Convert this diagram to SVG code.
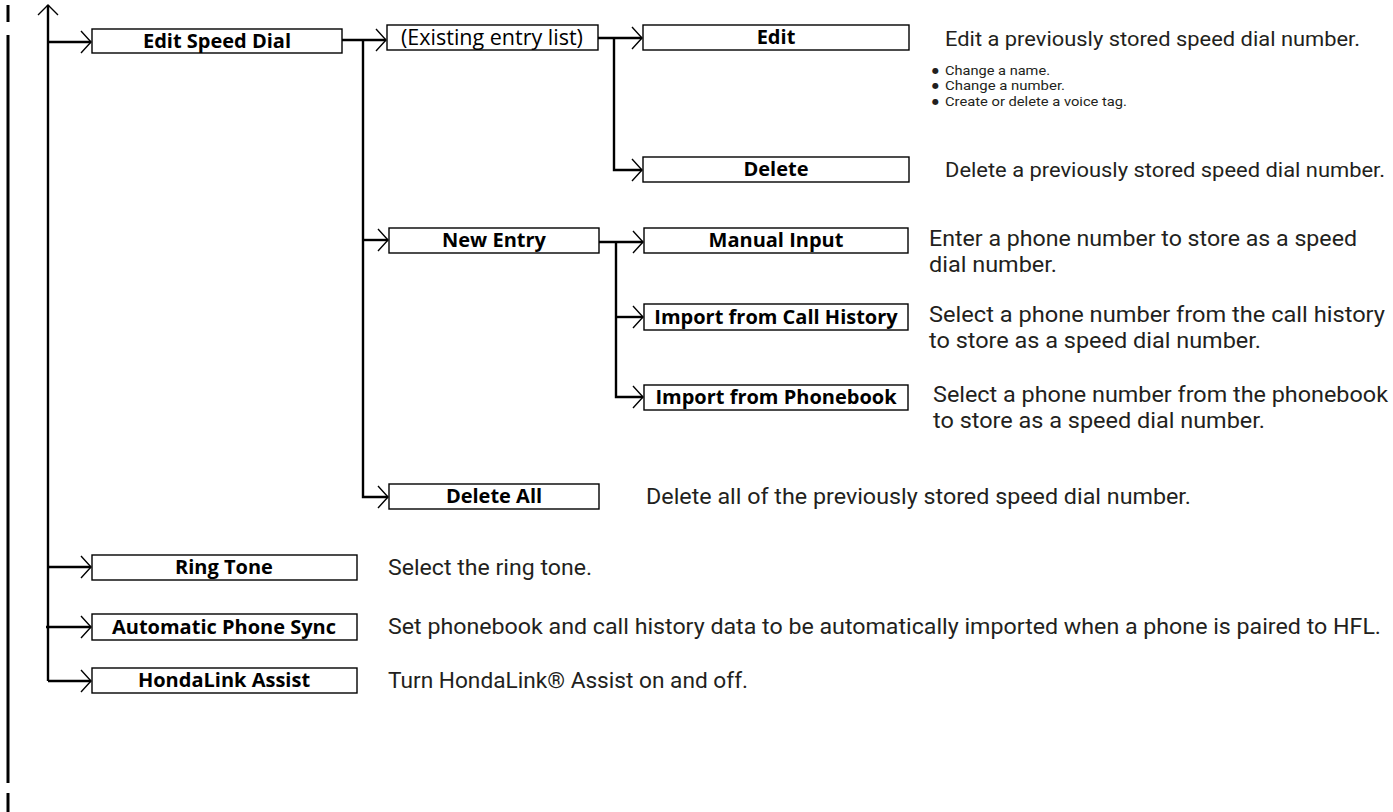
<svg xmlns="http://www.w3.org/2000/svg" width="1393" height="812" viewBox="0 0 1393 812">
<style>
.box{fill:#fff;stroke:#000;stroke-width:1.4}
.lbl{font-family:"Open Sans","Liberation Sans",sans-serif;font-weight:bold;font-size:20px;fill:#000;text-anchor:middle}
.lblr{font-family:"Open Sans","Liberation Sans",sans-serif;font-size:21.5px;fill:#000;text-anchor:middle}
.desc{font-family:Roboto,"Liberation Sans",sans-serif;font-size:22px;fill:#231f20}
.desc2{font-family:Roboto,"Liberation Sans",sans-serif;font-size:20.5px;fill:#231f20}
.bul{font-family:Roboto,"Liberation Sans",sans-serif;font-size:13px;fill:#231f20}
.dot{font-family:"DejaVu Sans",sans-serif;font-size:8px}
.ln{fill:none;stroke:#000;stroke-width:2.4}
.hd{fill:none;stroke:#000;stroke-width:1.4}
.bar{stroke:#000;stroke-width:3}
</style>
<g id="margin-bars">
<line class="bar" x1="8" y1="5" x2="8" y2="22"/>
<line class="bar" x1="8" y1="35" x2="8" y2="783"/>
<line class="bar" x1="8" y1="793" x2="8" y2="812"/>
</g>
<g id="connectors">
<polyline class="ln" points="48,681 48,5"/>
<polyline class="hd" points="38,15 48,5 58,15"/>
<line class="ln" x1="47" y1="42" x2="91" y2="42"/>
<polyline class="hd" points="81,31 91,42 81,53"/>
<line class="ln" x1="47" y1="567" x2="91" y2="567"/>
<polyline class="hd" points="81,556 91,567 81,578"/>
<line class="ln" x1="46" y1="627" x2="91" y2="627"/>
<polyline class="hd" points="81,616 91,627 81,638"/>
<polyline class="ln" points="48,681 91,681"/>
<polyline class="hd" points="81,670 91,681 81,692"/>
<line class="ln" x1="342" y1="40" x2="386" y2="40"/>
<polyline class="hd" points="376,29 386,40 376,51"/>
<polyline class="ln" points="363,40 363,497 388,497"/>
<polyline class="hd" points="378,486 388,497 378,508"/>
<line class="ln" x1="363" y1="240" x2="388" y2="240"/>
<polyline class="hd" points="378,229 388,240 378,251"/>
<line class="ln" x1="598" y1="38" x2="642" y2="38"/>
<polyline class="hd" points="632,27 642,38 632,49"/>
<polyline class="ln" points="614,38 614,170 642,170"/>
<polyline class="hd" points="632,159 642,170 632,181"/>
<line class="ln" x1="599" y1="242" x2="643" y2="242"/>
<polyline class="hd" points="633,231 643,242 633,253"/>
<polyline class="ln" points="616,242 616,397 643,397"/>
<polyline class="hd" points="633,386 643,397 633,408"/>
<line class="ln" x1="616" y1="317" x2="643" y2="317"/>
<polyline class="hd" points="633,306 643,317 633,328"/>
</g>
<g id="edit-speed-dial">
<rect class="box" x="92" y="29" width="250" height="24"/>
<text class="lbl" x="217" y="48">Edit Speed Dial</text>
</g>
<g id="existing-entry-list">
<rect class="box" x="387" y="25" width="211" height="25"/>
<text class="lblr" x="492" y="45">(Existing entry list)</text>
</g>
<g id="edit">
<rect class="box" x="643" y="25" width="266" height="25"/>
<text class="lbl" x="776" y="44">Edit</text>
<text class="desc2" x="945" y="46" textLength="415" lengthAdjust="spacingAndGlyphs">Edit a previously stored speed dial number.</text>
<text class="bul"><tspan class="dot" x="932" y="73">●</tspan><tspan x="945" y="75" textLength="105" lengthAdjust="spacingAndGlyphs">Change a name.</tspan></text>
<text class="bul"><tspan class="dot" x="932" y="88">●</tspan><tspan x="945" y="90" textLength="120" lengthAdjust="spacingAndGlyphs">Change a number.</tspan></text>
<text class="bul"><tspan class="dot" x="932" y="103.5">●</tspan><tspan x="945" y="105.5" textLength="182" lengthAdjust="spacingAndGlyphs">Create or delete a voice tag.</tspan></text>
</g>
<g id="delete">
<rect class="box" x="643" y="157" width="266" height="25"/>
<text class="lbl" x="776" y="176">Delete</text>
<text class="desc2" x="945" y="177" textLength="440" lengthAdjust="spacingAndGlyphs">Delete a previously stored speed dial number.</text>
</g>
<g id="new-entry">
<rect class="box" x="389" y="228" width="210" height="25"/>
<text class="lbl" x="494" y="247">New Entry</text>
</g>
<g id="manual-input">
<rect class="box" x="644" y="228" width="264" height="25"/>
<text class="lbl" x="776" y="247">Manual Input</text>
<text class="desc" x="929" y="246" textLength="428" lengthAdjust="spacingAndGlyphs">Enter a phone number to store as a speed</text>
<text class="desc" x="929" y="272" textLength="128" lengthAdjust="spacingAndGlyphs">dial number.</text>
</g>
<g id="import-call-history">
<rect class="box" x="644" y="304" width="264" height="26"/>
<text class="lbl" x="776" y="324">Import from Call History</text>
<text class="desc" x="929" y="322" textLength="456" lengthAdjust="spacingAndGlyphs">Select a phone number from the call history</text>
<text class="desc" x="929" y="348" textLength="332" lengthAdjust="spacingAndGlyphs">to store as a speed dial number.</text>
</g>
<g id="import-phonebook">
<rect class="box" x="644" y="385" width="264" height="25"/>
<text class="lbl" x="776" y="404">Import from Phonebook</text>
<text class="desc" x="933" y="402" textLength="455" lengthAdjust="spacingAndGlyphs">Select a phone number from the phonebook</text>
<text class="desc" x="933" y="428" textLength="332" lengthAdjust="spacingAndGlyphs">to store as a speed dial number.</text>
</g>
<g id="delete-all">
<rect class="box" x="389" y="484" width="210" height="25"/>
<text class="lbl" x="494" y="503">Delete All</text>
<text class="desc" x="646" y="504" textLength="545" lengthAdjust="spacingAndGlyphs">Delete all of the previously stored speed dial number.</text>
</g>
<g id="ring-tone">
<rect class="box" x="92" y="555" width="265" height="25"/>
<text class="lbl" x="224" y="574">Ring Tone</text>
<text class="desc" x="388" y="575" textLength="204" lengthAdjust="spacingAndGlyphs">Select the ring tone.</text>
</g>
<g id="automatic-phone-sync">
<rect class="box" x="92" y="614" width="265" height="26"/>
<text class="lbl" x="224" y="634">Automatic Phone Sync</text>
<text class="desc" x="388" y="634" textLength="993" lengthAdjust="spacingAndGlyphs">Set phonebook and call history data to be automatically imported when a phone is paired to HFL.</text>
</g>
<g id="hondalink-assist">
<rect class="box" x="92" y="668" width="265" height="25"/>
<text class="lbl" x="224" y="687">HondaLink Assist</text>
<text class="desc" x="388" y="688" textLength="360" lengthAdjust="spacingAndGlyphs">Turn HondaLink® Assist on and off.</text>
</g>
</svg>
